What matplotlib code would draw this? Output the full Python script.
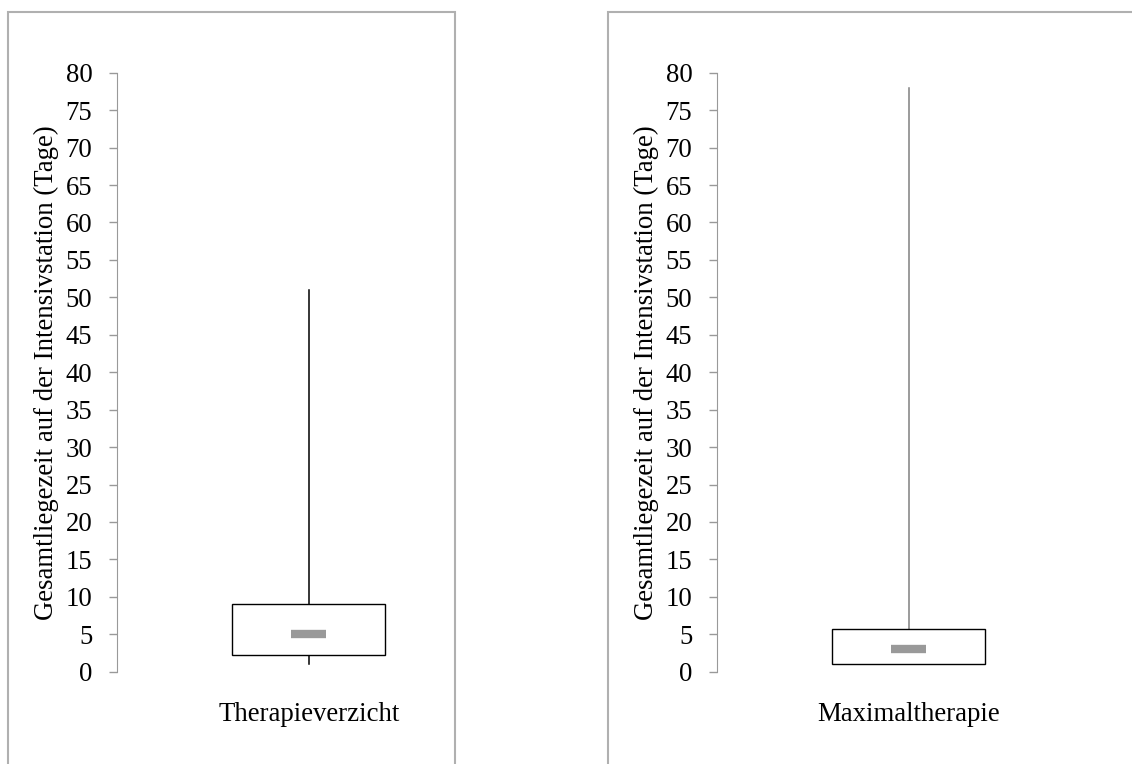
import matplotlib
matplotlib.use('Agg')
import matplotlib.pyplot as plt
from matplotlib.patches import Rectangle

# box plot summary values (Tage)
groups = ['Therapieverzicht', 'Maximaltherapie']
q1 = [2.2, 1.0]
median = [5.0, 3.0]
q3 = [9.0, 5.7]
minimum = [1.0, 1.0]
maximum = [51.0, 78.0]
whisker_colors = ['black', '#808080']

ylabel = 'Gesamtliegezeit auf der Intensivstation (Tage)'
yticks = list(range(0, 81, 5))

plt.rcParams['font.family'] = ['Liberation Serif', 'DejaVu Serif']
fs = 19.3

W, H = 1132, 764
fig = plt.figure(figsize=(W / 100, H / 100), dpi=100)

# outer chart frames (grey borders)
for x0, x1 in [(8, 455), (608, 1140)]:
    fig.patches.append(Rectangle((x0 / W, -0.05), (x1 - x0) / W, (H - 12) / H + 0.05,
                                 transform=fig.transFigure, fill=False,
                                 edgecolor='#b0b0b0', lw=1.5))

axis_left = [117.3, 717.3]
for i in range(2):
    ax = fig.add_axes([axis_left[i] / W, (H - 671.7) / H, 383 / W, 599 / H])
    ax.set_xlim(0, 1)
    ax.set_ylim(0, 80)
    # whiskers
    ax.plot([0.5, 0.5], [q3[i], maximum[i]], color=whisker_colors[i], lw=1.1)
    ax.plot([0.5, 0.5], [minimum[i], q1[i]], color=whisker_colors[i], lw=1.1)
    # box
    ax.add_patch(Rectangle((0.3, q1[i]), 0.4, q3[i] - q1[i], facecolor='white',
                           edgecolor='black', lw=1.0, zorder=3))
    # median
    ax.plot([0.454, 0.546], [median[i], median[i]], color='#999999', lw=6,
            solid_capstyle='butt', zorder=4)
    for s in ['top', 'right', 'bottom']:
        ax.spines[s].set_visible(False)
    ax.spines['left'].set_color('#999999')
    ax.set_yticks(yticks)
    ax.tick_params(axis='y', colors='#999999', length=6, width=1, pad=12,
                   labelcolor='black', labelsize=fs)
    ax.set_xticks([0.5])
    ax.set_xticklabels([groups[i]], fontsize=fs)
    ax.tick_params(axis='x', length=0, pad=22)
    ax.set_ylabel(ylabel, fontsize=fs, labelpad=5)

plt.savefig('out.png', dpi=100)
